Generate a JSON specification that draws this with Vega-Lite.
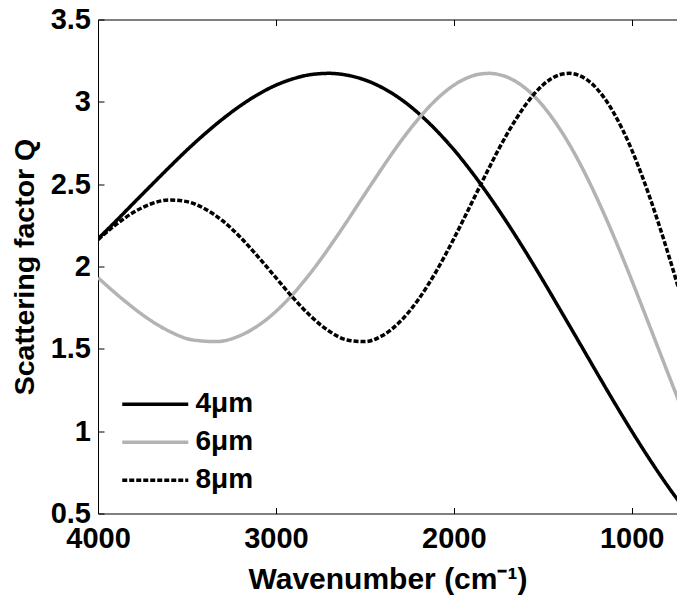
{
  "$schema": "https://vega.github.io/schema/vega-lite/v6.json",
  "autosize": "none",
  "width": 579,
  "height": 494,
  "padding": {"left": 98, "top": 19.5, "right": 0, "bottom": 89.5},
  "background": "white",
  "config": {
    "view": {"stroke": null},
    "font": "Liberation Sans",
    "axis": {
      "domainColor": "#000000",
      "domainWidth": 1,
      "tickColor": "#000000",
      "tickWidth": 1,
      "tickSize": -6,
      "grid": false,
      "labelColor": "#000000",
      "labelFont": "Liberation Sans",
      "labelFontWeight": "bold",
      "labelFontSize": 29,
      "labelFlush": false,
      "labelOverlap": false,
      "labelBound": false,
      "titleColor": "#000000",
      "titleFont": "Liberation Sans",
      "titleFontWeight": "bold",
      "titleFontSize": 28
    }
  },
  "data": {
    "values": [
      {"d": "4μm", "nu": 700, "Q": 0.524},
      {"d": "4μm", "nu": 800, "Q": 0.671},
      {"d": "4μm", "nu": 900, "Q": 0.831},
      {"d": "4μm", "nu": 1000, "Q": 1.001},
      {"d": "4μm", "nu": 1100, "Q": 1.179},
      {"d": "4μm", "nu": 1200, "Q": 1.363},
      {"d": "4μm", "nu": 1300, "Q": 1.549},
      {"d": "4μm", "nu": 1400, "Q": 1.734},
      {"d": "4μm", "nu": 1500, "Q": 1.918},
      {"d": "4μm", "nu": 1600, "Q": 2.096},
      {"d": "4μm", "nu": 1700, "Q": 2.266},
      {"d": "4μm", "nu": 1800, "Q": 2.426},
      {"d": "4μm", "nu": 1900, "Q": 2.575},
      {"d": "4μm", "nu": 2000, "Q": 2.710},
      {"d": "4μm", "nu": 2100, "Q": 2.829},
      {"d": "4μm", "nu": 2200, "Q": 2.932},
      {"d": "4μm", "nu": 2300, "Q": 3.018},
      {"d": "4μm", "nu": 2400, "Q": 3.085},
      {"d": "4μm", "nu": 2500, "Q": 3.133},
      {"d": "4μm", "nu": 2600, "Q": 3.162},
      {"d": "4μm", "nu": 2700, "Q": 3.173},
      {"d": "4μm", "nu": 2800, "Q": 3.166},
      {"d": "4μm", "nu": 2900, "Q": 3.141},
      {"d": "4μm", "nu": 3000, "Q": 3.101},
      {"d": "4μm", "nu": 3100, "Q": 3.045},
      {"d": "4μm", "nu": 3200, "Q": 2.976},
      {"d": "4μm", "nu": 3300, "Q": 2.895},
      {"d": "4μm", "nu": 3400, "Q": 2.805},
      {"d": "4μm", "nu": 3500, "Q": 2.707},
      {"d": "4μm", "nu": 3600, "Q": 2.602},
      {"d": "4μm", "nu": 3700, "Q": 2.494},
      {"d": "4μm", "nu": 3800, "Q": 2.385},
      {"d": "4μm", "nu": 3900, "Q": 2.275},
      {"d": "4μm", "nu": 4000, "Q": 2.168},
      {"d": "6μm", "nu": 666.7, "Q": 1.001},
      {"d": "6μm", "nu": 733.3, "Q": 1.179},
      {"d": "6μm", "nu": 800, "Q": 1.363},
      {"d": "6μm", "nu": 866.7, "Q": 1.549},
      {"d": "6μm", "nu": 933.3, "Q": 1.734},
      {"d": "6μm", "nu": 1000, "Q": 1.918},
      {"d": "6μm", "nu": 1066.7, "Q": 2.096},
      {"d": "6μm", "nu": 1133.3, "Q": 2.266},
      {"d": "6μm", "nu": 1200, "Q": 2.426},
      {"d": "6μm", "nu": 1266.7, "Q": 2.575},
      {"d": "6μm", "nu": 1333.3, "Q": 2.710},
      {"d": "6μm", "nu": 1400, "Q": 2.829},
      {"d": "6μm", "nu": 1466.7, "Q": 2.932},
      {"d": "6μm", "nu": 1533.3, "Q": 3.018},
      {"d": "6μm", "nu": 1600, "Q": 3.085},
      {"d": "6μm", "nu": 1666.7, "Q": 3.133},
      {"d": "6μm", "nu": 1733.3, "Q": 3.162},
      {"d": "6μm", "nu": 1800, "Q": 3.173},
      {"d": "6μm", "nu": 1866.7, "Q": 3.166},
      {"d": "6μm", "nu": 1933.3, "Q": 3.141},
      {"d": "6μm", "nu": 2000, "Q": 3.101},
      {"d": "6μm", "nu": 2066.7, "Q": 3.045},
      {"d": "6μm", "nu": 2133.3, "Q": 2.976},
      {"d": "6μm", "nu": 2200, "Q": 2.895},
      {"d": "6μm", "nu": 2266.7, "Q": 2.805},
      {"d": "6μm", "nu": 2333.3, "Q": 2.707},
      {"d": "6μm", "nu": 2400, "Q": 2.602},
      {"d": "6μm", "nu": 2466.7, "Q": 2.494},
      {"d": "6μm", "nu": 2533.3, "Q": 2.385},
      {"d": "6μm", "nu": 2600, "Q": 2.275},
      {"d": "6μm", "nu": 2666.7, "Q": 2.168},
      {"d": "6μm", "nu": 2800, "Q": 1.968},
      {"d": "6μm", "nu": 2933.3, "Q": 1.798},
      {"d": "6μm", "nu": 3066.7, "Q": 1.667},
      {"d": "6μm", "nu": 3200, "Q": 1.581},
      {"d": "6μm", "nu": 3333.3, "Q": 1.544},
      {"d": "6μm", "nu": 3466.7, "Q": 1.554},
      {"d": "6μm", "nu": 3600, "Q": 1.607},
      {"d": "6μm", "nu": 3733.3, "Q": 1.694},
      {"d": "6μm", "nu": 3866.7, "Q": 1.806},
      {"d": "6μm", "nu": 4000, "Q": 1.932},
      {"d": "8μm", "nu": 700, "Q": 1.734},
      {"d": "8μm", "nu": 750, "Q": 1.918},
      {"d": "8μm", "nu": 800, "Q": 2.096},
      {"d": "8μm", "nu": 850, "Q": 2.266},
      {"d": "8μm", "nu": 900, "Q": 2.426},
      {"d": "8μm", "nu": 950, "Q": 2.575},
      {"d": "8μm", "nu": 1000, "Q": 2.710},
      {"d": "8μm", "nu": 1050, "Q": 2.829},
      {"d": "8μm", "nu": 1100, "Q": 2.932},
      {"d": "8μm", "nu": 1150, "Q": 3.018},
      {"d": "8μm", "nu": 1200, "Q": 3.085},
      {"d": "8μm", "nu": 1250, "Q": 3.133},
      {"d": "8μm", "nu": 1300, "Q": 3.162},
      {"d": "8μm", "nu": 1350, "Q": 3.173},
      {"d": "8μm", "nu": 1400, "Q": 3.166},
      {"d": "8μm", "nu": 1450, "Q": 3.141},
      {"d": "8μm", "nu": 1500, "Q": 3.101},
      {"d": "8μm", "nu": 1550, "Q": 3.045},
      {"d": "8μm", "nu": 1600, "Q": 2.976},
      {"d": "8μm", "nu": 1650, "Q": 2.895},
      {"d": "8μm", "nu": 1700, "Q": 2.805},
      {"d": "8μm", "nu": 1750, "Q": 2.707},
      {"d": "8μm", "nu": 1800, "Q": 2.602},
      {"d": "8μm", "nu": 1850, "Q": 2.494},
      {"d": "8μm", "nu": 1900, "Q": 2.385},
      {"d": "8μm", "nu": 1950, "Q": 2.275},
      {"d": "8μm", "nu": 2000, "Q": 2.168},
      {"d": "8μm", "nu": 2100, "Q": 1.968},
      {"d": "8μm", "nu": 2200, "Q": 1.798},
      {"d": "8μm", "nu": 2300, "Q": 1.667},
      {"d": "8μm", "nu": 2400, "Q": 1.581},
      {"d": "8μm", "nu": 2500, "Q": 1.544},
      {"d": "8μm", "nu": 2600, "Q": 1.554},
      {"d": "8μm", "nu": 2700, "Q": 1.607},
      {"d": "8μm", "nu": 2800, "Q": 1.694},
      {"d": "8μm", "nu": 2900, "Q": 1.806},
      {"d": "8μm", "nu": 3000, "Q": 1.932},
      {"d": "8μm", "nu": 3100, "Q": 2.059},
      {"d": "8μm", "nu": 3200, "Q": 2.178},
      {"d": "8μm", "nu": 3300, "Q": 2.278},
      {"d": "8μm", "nu": 3400, "Q": 2.351},
      {"d": "8μm", "nu": 3500, "Q": 2.394},
      {"d": "8μm", "nu": 3600, "Q": 2.404},
      {"d": "8μm", "nu": 3700, "Q": 2.381},
      {"d": "8μm", "nu": 3800, "Q": 2.329},
      {"d": "8μm", "nu": 3900, "Q": 2.254},
      {"d": "8μm", "nu": 4000, "Q": 2.163}
    ]
  },
  "layer": [
    {
      "mark": {"type": "line", "clip": true, "strokeWidth": 3.5, "interpolate": "monotone"},
      "encoding": {
        "x": {
          "field": "nu",
          "type": "quantitative",
          "scale": {"domain": [4000, 745], "nice": false, "zero": false},
          "axis": {
            "orient": "bottom",
            "title": "Wavenumber (cm⁻¹)",
            "titleFontSize": 30,
            "values": [4000, 3000, 2000, 1000],
            "format": "d",
            "labelPadding": 17,
            "titleBaseline": "alphabetic",
            "titleY": 75
          }
        },
        "y": {
          "field": "Q",
          "type": "quantitative",
          "scale": {"domain": [0.5, 3.5], "nice": false, "zero": false},
          "axis": {
            "title": "Scattering factor Q",
            "titleFontSize": 28.5,
            "values": [0.5, 1, 1.5, 2, 2.5, 3, 3.5],
            "format": "~g",
            "labelPadding": 13.5,
            "titleBaseline": "alphabetic",
            "titleX": -65
          }
        },
        "color": {
          "field": "d",
          "type": "nominal",
          "scale": {"domain": ["4μm", "6μm", "8μm"], "range": ["#000000", "#b3b3b3", "#000000"]},
          "legend": {
            "title": null,
            "orient": "none",
            "legendX": 35.25,
            "legendY": 362.75,
            "symbolType": "M-1.65,0H1.65",
            "symbolSize": 1600,
            "symbolStrokeWidth": 3.5,
            "labelFont": "Liberation Sans",
            "labelFontSize": 28,
            "labelFontWeight": "bold",
            "labelColor": "#000000",
            "labelOffset": 18.25,
            "rowPadding": 2
          }
        },
        "strokeDash": {
          "field": "d",
          "type": "nominal",
          "scale": {"domain": ["4μm", "6μm", "8μm"], "range": [[1, 0], [1, 0], [5, 2]]},
          "legend": {
            "title": null,
            "orient": "none",
            "legendX": 35.25,
            "legendY": 362.75,
            "symbolType": "M-1.65,0H1.65",
            "symbolSize": 1600,
            "symbolStrokeWidth": 3.5,
            "labelFont": "Liberation Sans",
            "labelFontSize": 28,
            "labelFontWeight": "bold",
            "labelColor": "#000000",
            "labelOffset": 18.25,
            "rowPadding": 2
          }
        }
      }
    },
    {
      "mark": {"type": "line", "clip": true, "opacity": 0, "strokeWidth": 0},
      "encoding": {
        "x": {
          "field": "nu",
          "type": "quantitative",
          "scale": {"domain": [4000, 745], "nice": false, "zero": false},
          "axis": {
            "orient": "top",
            "title": null,
            "labels": false,
            "values": [4000, 3000, 2000, 1000]
          }
        },
        "detail": {"field": "d", "type": "nominal"}
      }
    }
  ],
  "resolve": {"axis": {"x": "independent"}}
}
